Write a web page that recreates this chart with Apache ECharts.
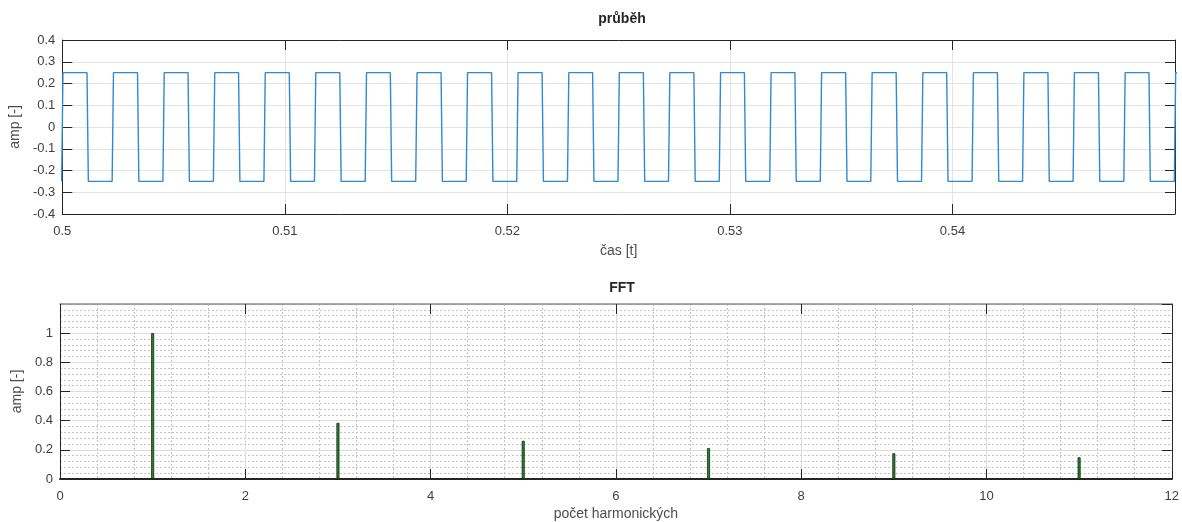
<!DOCTYPE html>
<html>
<head>
<meta charset="utf-8">
<script src="https://cdn.jsdelivr.net/npm/echarts@6/dist/echarts.min.js"></script>
<style>
html,body{margin:0;padding:0;background:#fff;}
#chart{width:1182px;height:522px;}
</style>
</head>
<body>
<div id="chart"></div>
<script>
// ---- data ----
// time axis of the waveform
const timeMin = 0.5;
const timeMax = 0.55;
const timeInterval = 0.01;
// instants of the square-wave transitions (first one is a rise, then alternate)
const edgeTimes = [
  0.50000, 0.50114, 0.50227, 0.50341, 0.50455, 0.50568, 0.50682, 0.50795,
  0.50909, 0.51023, 0.51136, 0.51250, 0.51364, 0.51477, 0.51591, 0.51705,
  0.51818, 0.51932, 0.52045, 0.52159, 0.52273, 0.52386, 0.52500, 0.52614,
  0.52727, 0.52841, 0.52955, 0.53068, 0.53182, 0.53295, 0.53409, 0.53523,
  0.53636, 0.53750, 0.53864, 0.53977, 0.54091, 0.54205, 0.54318, 0.54432,
  0.54545, 0.54659, 0.54773, 0.54886, 0.55000
];
const highLevel = 0.25;
const lowLevel = -0.25;
// FFT spectrum
const harmonics = [1, 3, 5, 7, 9, 11];
const fftAmp = [1.0, 0.385, 0.262, 0.212, 0.176, 0.149];
// texts
const title1 = 'průběh';
const title2 = 'FFT';
const xName1 = 'čas [t]';
const xName2 = 'počet harmonických';
const yName = 'amp [-]';

// ---- build series data ----
const halfEdge = 0.00003;
const wave = [];
for (let i = 0; i < edgeTimes.length; i++) {
  const before = (i % 2 === 0) ? lowLevel : highLevel;
  const after = (i % 2 === 0) ? highLevel : lowLevel;
  wave.push([edgeTimes[i] - halfEdge, before]);
  wave.push([edgeTimes[i] + halfEdge, after]);
}
wave.push([timeMax + 0.001, (edgeTimes.length % 2 === 1) ? highLevel : lowLevel]);
const spectrum = harmonics.map((h, i) => [h, fftAmp[i]]);

const FONT = 'Liberation Sans, Arial, Helvetica, sans-serif';
const axisCol = '#262626';
const labelCol = '#404040';
const tickLen = 10;

function boxAxis(base, extra) { return Object.assign({}, base, extra); }

const chart = echarts.init(document.getElementById('chart'), null, {renderer: 'canvas'});

const grid0 = {left: 60, right: 7, top: 40, height: 174};
const grid1 = {left: 60, right: 7, top: 304, height: 176};

const xBase0 = {gridIndex: 0, type: 'value', min: timeMin, max: timeMax, interval: timeInterval};
const yBase0 = {gridIndex: 0, type: 'value', min: -0.4, max: 0.4, interval: 0.1};
const xBase1 = {gridIndex: 1, type: 'value', min: 0, max: 12, interval: 2};
const yBase1 = {gridIndex: 1, type: 'value', min: 0, max: 1.2, interval: 0.2};

function aLine(color, width) { return {show: true, onZero: false, lineStyle: {color: color, width: width}}; }
const tickIn = {show: true, inside: true, length: tickLen, lineStyle: {color: axisCol, width: 1}};
const lbl = {color: labelCol, fontFamily: FONT, fontSize: 13};

const option = {
  animation: false,
  backgroundColor: '#ffffff',
  title: [
    {text: title1, left: 617, top: 7, textAlign: 'center',
     textStyle: {fontFamily: FONT, fontSize: 14, fontWeight: 'bold', color: '#262626'}},
    {text: title2, left: 617, top: 276, textAlign: 'center',
     textStyle: {fontFamily: FONT, fontSize: 14, fontWeight: 'bold', color: '#262626'}}
  ],
  grid: [grid0, grid1],
  xAxis: [
    boxAxis(xBase0, {
      position: 'bottom',
      name: xName1, nameLocation: 'middle', nameGap: 30,
      nameTextStyle: {color: '#4d4d4d', fontFamily: FONT, fontSize: 14},
      axisLine: aLine(axisCol, 1), axisTick: tickIn,
      axisLabel: Object.assign({margin: 11, showMaxLabel: false}, lbl),
      splitLine: {show: true, lineStyle: {color: '#e3e3e3', width: 1}}
    }),
    boxAxis(xBase0, {
      position: 'top', axisLine: aLine(axisCol, 1), axisTick: tickIn,
      axisLabel: {show: false}, splitLine: {show: false}
    }),
    boxAxis(xBase1, {
      position: 'bottom',
      name: xName2, nameLocation: 'middle', nameGap: 28,
      nameTextStyle: {color: '#4d4d4d', fontFamily: FONT, fontSize: 14},
      axisLine: aLine(axisCol, 2), axisTick: tickIn,
      axisLabel: Object.assign({margin: 11}, lbl),
      splitLine: {show: true, lineStyle: {color: '#dcdcdc', width: 1}},
      minorTick: {show: false, splitNumber: 5},
      minorSplitLine: {show: true, lineStyle: {color: '#c4c4c4', width: 1, type: [2, 2]}}
    }),
    boxAxis(xBase1, {
      position: 'top', axisLine: aLine('#8a8a8a', 1.5), axisTick: tickIn,
      axisLabel: {show: false}, splitLine: {show: false}
    })
  ],
  yAxis: [
    boxAxis(yBase0, {
      position: 'left',
      name: yName, nameLocation: 'middle', nameGap: 33, nameRotate: 90,
      nameTextStyle: {color: '#4d4d4d', fontFamily: FONT, fontSize: 14},
      axisLine: aLine(axisCol, 1), axisTick: tickIn,
      axisLabel: Object.assign({margin: 7}, lbl),
      splitLine: {show: true, lineStyle: {color: '#e3e3e3', width: 1}}
    }),
    boxAxis(yBase0, {
      position: 'right', axisLine: aLine(axisCol, 1), axisTick: tickIn,
      axisLabel: {show: false}, splitLine: {show: false}
    }),
    boxAxis(yBase1, {
      position: 'left',
      name: yName, nameLocation: 'middle', nameGap: 33, nameRotate: 90,
      nameTextStyle: {color: '#4d4d4d', fontFamily: FONT, fontSize: 14},
      axisLine: aLine(axisCol, 1), axisTick: tickIn,
      axisLabel: Object.assign({margin: 7, showMaxLabel: false}, lbl),
      splitLine: {show: true, lineStyle: {color: '#dcdcdc', width: 1}},
      minorTick: {show: false, splitNumber: 5},
      minorSplitLine: {show: true, lineStyle: {color: '#c4c4c4', width: 1, type: [2, 2]}}
    }),
    boxAxis(yBase1, {
      position: 'right', axisLine: aLine(axisCol, 1), axisTick: tickIn,
      axisLabel: {show: false}, splitLine: {show: false}
    })
  ],
  series: [
    {
      type: 'line', xAxisIndex: 0, yAxisIndex: 0,
      data: wave, showSymbol: false, symbol: 'none', clip: true,
      lineStyle: {color: '#2f8bcf', width: 1.4},
      z: 3
    },
    {
      type: 'bar', xAxisIndex: 2, yAxisIndex: 2,
      data: spectrum, barWidth: 3,
      itemStyle: {color: '#2f7d2f', borderColor: '#0f2f0f', borderWidth: 0.8},
      z: 3
    }
  ]
};
chart.setOption(option);
</script>
</body>
</html>
